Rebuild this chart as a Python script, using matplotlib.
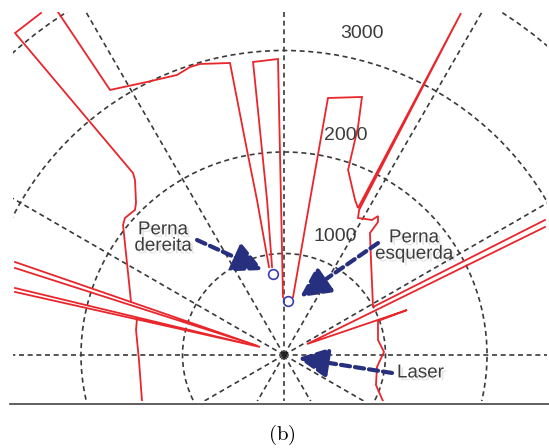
import matplotlib
matplotlib.use("Agg")
import numpy as np
import matplotlib.pyplot as plt
from matplotlib.patches import Circle
from matplotlib.lines import Line2D
from matplotlib import patheffects as pe

# laser scan contour (mm, laser at origin), one list per drawn stroke
wall_left_x = [-2394, -2650, -1488, -1468, -1458, -1468, -1567, -1586, -1507, -256, -2650]
wall_left_y = [3370, 3172, 1793, 1724, 1498, 1429, 1350, 1281, 522, 89, 857]
ray_left_x = [-2650, -1507]
ray_left_y = [916, 522]
ray_low_x = [-2650, -236, -2650]
ray_low_y = [660, 79, 621]
wall_low_x = [-1448, -1458, -1429, -1399]
wall_low_y = [365, 246, -49, -453]
wall_top_x = [-2227, -1714, -1350, -1054, -926, -828, -532, -365, -266, -148]
wall_top_y = [3379, 2611, 2690, 2759, 2837, 2867, 2877, 2020, 1527, 867]
gap_x = [-118, -167, -305, -59, -30, -10]
gap_y = [867, 1527, 2887, 2916, 1527, 571]
wall_right_x = [89, 256, 433, 768, 729, 631, 700, 729, 1744, 740, 729, 867, 926, 926, 847, 857, 877, 2571]
wall_right_y = [571, 1527, 2532, 2542, 2246, 1823, 1527, 1448, 3369, 1429, 1350, 1330, 1369, 1310, 1202, 936, 473, 1330]
wall_low_right_x = [2571, 227, 1212, 926, 926, 985, 916, 906, 975]
wall_low_right_y = [1261, 108, 443, 335, 148, 30, -118, -296, -453]

# detected legs
leg_x = [-108, 39]
leg_y = [798, 532]

# polar grid
rings = [1000, 2000, 3000, 4000]
spoke_angles = np.arange(0, 360, 30)
ring_labels = ["1000", "2000", "3000"]
ring_label_x = [502, 611, 768]
ring_label_y = [1172, 2158, 3172]

# annotations: text, text position, arrow tail, arrow tip
notes = ["Perna\ndereita", "Perna\nesquerda", "Laser"]
note_x = [-1192, 1281, 1113]
note_y = [1153, 1074, -177]
tail_x = [-857, 926, 1064]
tail_y = [1133, 1103, -177]
tip_x = [-207, 158, 138]
tip_y = [837, 571, -30]

red = "#e8262c"
navy = "#27307f"
txt = "#3c3c3c"
grid_col = "#3a3a3a"
grid_dash = (0, (3.0, 2.2))

fig = plt.figure(figsize=(5.49, 4.48), dpi=100)
ax = fig.add_axes([13 / 549, 47 / 448, 534 / 549, 389 / 448])

# grid circles and spokes
for r in rings:
    ax.add_patch(Circle((0, 0), r, fill=False, edgecolor=grid_col, lw=1.2,
                        linestyle=grid_dash, zorder=2))
for a in spoke_angles:
    t = np.deg2rad(a)
    ax.plot([0, 4200 * np.cos(t)], [0, 4200 * np.sin(t)], color=grid_col,
            lw=1.2, linestyle=grid_dash, zorder=2)

# scan
segments = [(wall_left_x, wall_left_y), (ray_left_x, ray_left_y), (ray_low_x, ray_low_y),
            (wall_low_x, wall_low_y), (wall_top_x, wall_top_y), (gap_x, gap_y),
            (wall_right_x, wall_right_y), (wall_low_right_x, wall_low_right_y)]
for xs, ys in segments:
    ax.plot(xs, ys, color=red, lw=1.3, zorder=3, solid_joinstyle="miter")

ax.plot(leg_x, leg_y, "o", mfc="none", mec="#3b3bb0", ms=7, mew=1.2, zorder=4)
ax.plot([0], [0], "v", color="#222222", ms=5, zorder=4)

shadow = [pe.SimplePatchShadow(offset=(2, -2), shadow_rgbFace="#999999", alpha=0.25), pe.Normal()]

for lab, x, y in zip(ring_labels, ring_label_x, ring_label_y):
    ax.text(x, y, lab, ha="center", va="center", fontsize=14, color=txt,
            family="Liberation Sans", zorder=6)

for i, lab in enumerate(notes):
    ha = "left" if lab == "Laser" else "center"
    ax.text(note_x[i], note_y[i], lab, ha=ha, va="center", fontsize=13.5, color=txt,
            family="Liberation Sans", linespacing=0.95, zorder=6, path_effects=shadow)
    ax.annotate("", xy=(tip_x[i], tip_y[i]), xytext=(tail_x[i], tail_y[i]),
                arrowprops=dict(arrowstyle="-|>,head_length=0.9,head_width=0.45",
                                color=navy, lw=3, linestyle=(0, (2.2, 1.2)),
                                mutation_scale=20, shrinkA=0, shrinkB=0),
                zorder=5)

ax.set_xlim(-2670, 2591)
ax.set_ylim(-453, 3379)
ax.set_aspect("equal")
ax.axis("off")

# separator line and caption
fig.add_artist(Line2D([10 / 549, 1.0], [44 / 448, 44 / 448], color="#444444", lw=1.2))
plt.rcParams["mathtext.fontset"] = "cm"
fig.text(282 / 549, 13 / 448, r"$\mathrm{(b)}$", ha="center", va="center", fontsize=15)

fig.savefig("out.png", dpi=100)
